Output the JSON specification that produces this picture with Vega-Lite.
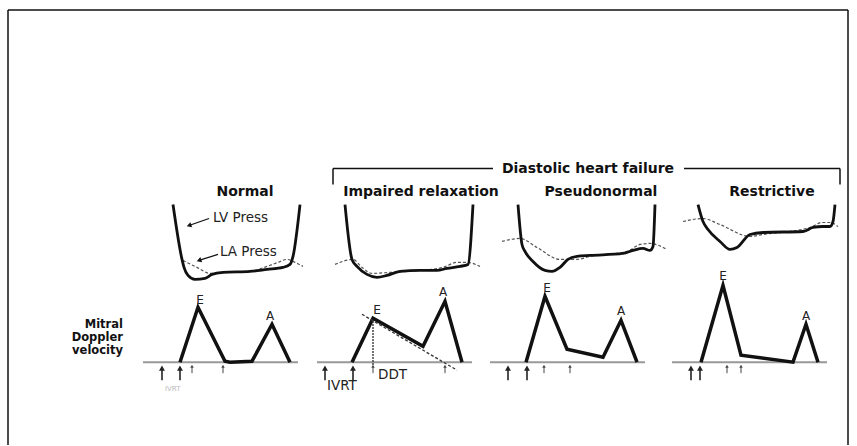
{
  "$schema": "https://vega.github.io/schema/vega-lite/v6.json",
  "width": 857,
  "height": 446,
  "autosize": {"type": "fit", "contains": "padding"},
  "padding": 0,
  "background": "white",
  "config": {"view": {"stroke": null}},
  "datasets": {
    "lv": [
      {"id": "N", "x": 173, "y": 205}, {"id": "N", "x": 182, "y": 260}, {"id": "N", "x": 184, "y": 268}, {"id": "N", "x": 188, "y": 276}, {"id": "N", "x": 195, "y": 280}, {"id": "N", "x": 205, "y": 279}, {"id": "N", "x": 212, "y": 275}, {"id": "N", "x": 223, "y": 273}, {"id": "N", "x": 250, "y": 272}, {"id": "N", "x": 267, "y": 270}, {"id": "N", "x": 283, "y": 268}, {"id": "N", "x": 290, "y": 265}, {"id": "N", "x": 293, "y": 257}, {"id": "N", "x": 300, "y": 205},
      {"id": "I", "x": 345, "y": 205}, {"id": "I", "x": 352, "y": 260}, {"id": "I", "x": 357, "y": 267}, {"id": "I", "x": 367, "y": 275}, {"id": "I", "x": 377, "y": 278}, {"id": "I", "x": 387, "y": 276}, {"id": "I", "x": 400, "y": 272}, {"id": "I", "x": 420, "y": 271}, {"id": "I", "x": 437, "y": 271}, {"id": "I", "x": 447, "y": 269}, {"id": "I", "x": 460, "y": 267}, {"id": "I", "x": 468, "y": 265}, {"id": "I", "x": 473, "y": 205},
      {"id": "P", "x": 518, "y": 205}, {"id": "P", "x": 522, "y": 245}, {"id": "P", "x": 525, "y": 252}, {"id": "P", "x": 533, "y": 262}, {"id": "P", "x": 545, "y": 271}, {"id": "P", "x": 552, "y": 272}, {"id": "P", "x": 560, "y": 268}, {"id": "P", "x": 568, "y": 260}, {"id": "P", "x": 577, "y": 257}, {"id": "P", "x": 590, "y": 256}, {"id": "P", "x": 623, "y": 254}, {"id": "P", "x": 633, "y": 251}, {"id": "P", "x": 643, "y": 249}, {"id": "P", "x": 650, "y": 251}, {"id": "P", "x": 653, "y": 247}, {"id": "P", "x": 655, "y": 205},
      {"id": "R", "x": 698, "y": 205}, {"id": "R", "x": 703, "y": 222}, {"id": "R", "x": 708, "y": 230}, {"id": "R", "x": 720, "y": 242}, {"id": "R", "x": 730, "y": 250}, {"id": "R", "x": 737, "y": 248}, {"id": "R", "x": 750, "y": 235}, {"id": "R", "x": 763, "y": 233}, {"id": "R", "x": 803, "y": 232}, {"id": "R", "x": 813, "y": 228}, {"id": "R", "x": 823, "y": 227}, {"id": "R", "x": 830, "y": 227}, {"id": "R", "x": 833, "y": 222}, {"id": "R", "x": 835, "y": 205}
    ],
    "la": [
      {"id": "N", "x": 183, "y": 261}, {"id": "N", "x": 197, "y": 268}, {"id": "N", "x": 210, "y": 274}, {"id": "N", "x": 225, "y": 273}, {"id": "N", "x": 250, "y": 272}, {"id": "N", "x": 267, "y": 267}, {"id": "N", "x": 278, "y": 263}, {"id": "N", "x": 287, "y": 260}, {"id": "N", "x": 295, "y": 263}, {"id": "N", "x": 303, "y": 267},
      {"id": "I", "x": 335, "y": 265}, {"id": "I", "x": 353, "y": 260}, {"id": "I", "x": 362, "y": 268}, {"id": "I", "x": 372, "y": 274}, {"id": "I", "x": 390, "y": 273}, {"id": "I", "x": 420, "y": 271}, {"id": "I", "x": 443, "y": 268}, {"id": "I", "x": 457, "y": 263}, {"id": "I", "x": 467, "y": 263}, {"id": "I", "x": 480, "y": 267},
      {"id": "P", "x": 502, "y": 242}, {"id": "P", "x": 520, "y": 239}, {"id": "P", "x": 537, "y": 248}, {"id": "P", "x": 560, "y": 260}, {"id": "P", "x": 577, "y": 260}, {"id": "P", "x": 590, "y": 257}, {"id": "P", "x": 627, "y": 252}, {"id": "P", "x": 640, "y": 245}, {"id": "P", "x": 650, "y": 244}, {"id": "P", "x": 667, "y": 250},
      {"id": "R", "x": 683, "y": 222}, {"id": "R", "x": 703, "y": 219}, {"id": "R", "x": 720, "y": 225}, {"id": "R", "x": 750, "y": 237}, {"id": "R", "x": 763, "y": 235}, {"id": "R", "x": 810, "y": 228}, {"id": "R", "x": 822, "y": 223}, {"id": "R", "x": 830, "y": 223}, {"id": "R", "x": 838, "y": 227}
    ],
    "dop": [
      {"id": "N", "x": 180, "y": 363}, {"id": "N", "x": 198, "y": 308}, {"id": "N", "x": 225, "y": 362}, {"id": "N", "x": 230, "y": 363}, {"id": "N", "x": 252, "y": 362}, {"id": "N", "x": 272, "y": 325}, {"id": "N", "x": 290, "y": 363},
      {"id": "I", "x": 352, "y": 363}, {"id": "I", "x": 373, "y": 319}, {"id": "I", "x": 423, "y": 347}, {"id": "I", "x": 445, "y": 302}, {"id": "I", "x": 462, "y": 363},
      {"id": "P", "x": 526, "y": 363}, {"id": "P", "x": 545, "y": 297}, {"id": "P", "x": 567, "y": 350}, {"id": "P", "x": 603, "y": 358}, {"id": "P", "x": 621, "y": 321}, {"id": "P", "x": 637, "y": 363},
      {"id": "R", "x": 701, "y": 363}, {"id": "R", "x": 723, "y": 286}, {"id": "R", "x": 741, "y": 356}, {"id": "R", "x": 793, "y": 363}, {"id": "R", "x": 806, "y": 325}, {"id": "R", "x": 818, "y": 363}
    ],
    "baseline": [
      {"x": 143, "y": 363, "x2": 298, "y2": 363},
      {"x": 317, "y": 363, "x2": 472, "y2": 363},
      {"x": 490, "y": 363, "x2": 645, "y2": 363},
      {"x": 672, "y": 363, "x2": 827, "y2": 363}
    ],
    "frame": [
      {"x": 8, "y": 10, "x2": 848, "y2": 10},
      {"x": 8, "y": 10, "x2": 8, "y2": 446},
      {"x": 848, "y": 10, "x2": 848, "y2": 446},
      {"x": 333, "y": 169, "x2": 493, "y2": 169},
      {"x": 684, "y": 169, "x2": 840, "y2": 169},
      {"x": 333, "y": 169, "x2": 333, "y2": 185},
      {"x": 840, "y": 169, "x2": 840, "y2": 185}
    ],
    "pointers": [
      {"x": 209, "y": 219, "x2": 189, "y2": 226},
      {"x": 218, "y": 255, "x2": 199, "y2": 261}
    ],
    "bigArrows": [
      {"x": 162, "y": 381, "y2": 369}, {"x": 180, "y": 381, "y2": 369},
      {"x": 325, "y": 381, "y2": 369}, {"x": 353, "y": 381, "y2": 369},
      {"x": 508, "y": 381, "y2": 369}, {"x": 527, "y": 381, "y2": 369},
      {"x": 691, "y": 381, "y2": 369}, {"x": 700, "y": 381, "y2": 369}
    ],
    "smallArrows": [
      {"x": 192, "y": 374, "y2": 367}, {"x": 223, "y": 374, "y2": 367},
      {"x": 373, "y": 374, "y2": 367}, {"x": 445, "y": 374, "y2": 367},
      {"x": 544, "y": 374, "y2": 367}, {"x": 570, "y": 374, "y2": 367},
      {"x": 727, "y": 374, "y2": 367}, {"x": 741, "y": 374, "y2": 367}
    ],
    "titles": [
      {"x": 245, "y": 192, "label": "Normal"},
      {"x": 421, "y": 192, "label": "Impaired relaxation"},
      {"x": 601, "y": 192, "label": "Pseudonormal"},
      {"x": 772, "y": 192, "label": "Restrictive"},
      {"x": 588, "y": 169, "label": "Diastolic heart failure"}
    ],
    "leftLabels": [
      {"x": 213, "y": 218, "label": "LV Press"},
      {"x": 220, "y": 253, "label": "LA Press"},
      {"x": 327, "y": 387, "label": "IVRT"},
      {"x": 378, "y": 376, "label": "DDT"}
    ],
    "peaks": [
      {"x": 200, "y": 301, "label": "E"}, {"x": 270, "y": 317, "label": "A"},
      {"x": 377, "y": 311, "label": "E"}, {"x": 443, "y": 293, "label": "A"},
      {"x": 547, "y": 289, "label": "E"}, {"x": 621, "y": 312, "label": "A"},
      {"x": 723, "y": 277, "label": "E"}, {"x": 806, "y": 317, "label": "A"}
    ],
    "mitral": [
      {"x": 123, "y": 326, "label": "Mitral"},
      {"x": 123, "y": 339, "label": "Doppler"},
      {"x": 123, "y": 352, "label": "velocity"}
    ],
    "faint": [
      {"x": 165, "y": 390, "label": "IVRT"}
    ],
    "ddtSlope": [
      {"x": 362, "y": 315, "x2": 457, "y2": 371}
    ],
    "ddtDrop": [
      {"x": 373, "y": 322, "x2": 373, "y2": 367}
    ]
  },
  "encoding": {
    "x": {"field": "x", "type": "quantitative", "scale": {"domain": [0, 857], "nice": false, "zero": false}, "axis": null},
    "y": {"field": "y", "type": "quantitative", "scale": {"domain": [0, 446], "nice": false, "zero": false, "reverse": true}, "axis": null}
  },
  "layer": [
    {
      "data": {"name": "frame"},
      "mark": {"type": "rule", "color": "#111", "strokeWidth": 1.5},
      "encoding": {"x2": {"field": "x2"}, "y2": {"field": "y2"}}
    },
    {
      "data": {"name": "baseline"},
      "mark": {"type": "rule", "color": "#999", "strokeWidth": 2},
      "encoding": {"x2": {"field": "x2"}, "y2": {"field": "y2"}}
    },
    {
      "data": {"name": "la"},
      "mark": {"type": "line", "color": "#555", "strokeWidth": 1.2, "strokeDash": [3, 2], "interpolate": "monotone"},
      "encoding": {"detail": {"field": "id"}, "order": {"value": null}}
    },
    {
      "data": {"name": "lv"},
      "mark": {"type": "line", "color": "#111", "strokeWidth": 2.8, "interpolate": "monotone"},
      "encoding": {"detail": {"field": "id"}, "order": {"value": null}}
    },
    {
      "data": {"name": "dop"},
      "mark": {"type": "line", "color": "#111", "strokeWidth": 3.5, "strokeJoin": "miter"},
      "encoding": {"detail": {"field": "id"}, "order": {"value": null}}
    },
    {
      "data": {"name": "ddtSlope"},
      "mark": {"type": "rule", "color": "#333", "strokeWidth": 1.3, "strokeDash": [3, 2]},
      "encoding": {"x2": {"field": "x2"}, "y2": {"field": "y2"}}
    },
    {
      "data": {"name": "ddtDrop"},
      "mark": {"type": "rule", "color": "#333", "strokeWidth": 1.8, "strokeDash": [1.5, 1.5]},
      "encoding": {"x2": {"field": "x2"}, "y2": {"field": "y2"}}
    },
    {
      "data": {"name": "pointers"},
      "mark": {"type": "rule", "color": "#111", "strokeWidth": 1.3},
      "encoding": {"x2": {"field": "x2"}, "y2": {"field": "y2"}}
    },
    {
      "data": {"name": "pointers"},
      "mark": {"type": "point", "shape": "triangle-up", "filled": true, "color": "#111", "size": 30, "angle": 251, "opacity": 1},
      "encoding": {"x": {"field": "x2", "type": "quantitative"}, "y": {"field": "y2", "type": "quantitative"}}
    },
    {
      "data": {"name": "bigArrows"},
      "mark": {"type": "rule", "color": "#222", "strokeWidth": 1.6},
      "encoding": {"y2": {"field": "y2"}}
    },
    {
      "data": {"name": "bigArrows"},
      "mark": {"type": "point", "shape": "triangle-up", "filled": true, "color": "#222", "size": 35, "opacity": 1},
      "encoding": {"y": {"field": "y2", "type": "quantitative"}}
    },
    {
      "data": {"name": "smallArrows"},
      "mark": {"type": "rule", "color": "#444", "strokeWidth": 1},
      "encoding": {"y2": {"field": "y2"}}
    },
    {
      "data": {"name": "smallArrows"},
      "mark": {"type": "point", "shape": "triangle-up", "filled": true, "color": "#444", "size": 12, "opacity": 1},
      "encoding": {"y": {"field": "y2", "type": "quantitative"}}
    },
    {
      "data": {"name": "titles"},
      "mark": {"type": "text", "font": "DejaVu Sans", "fontWeight": "bold", "fontSize": 14, "color": "#111", "align": "center", "baseline": "middle"},
      "encoding": {"text": {"field": "label"}}
    },
    {
      "data": {"name": "leftLabels"},
      "mark": {"type": "text", "font": "DejaVu Sans", "fontSize": 13.5, "color": "#222", "align": "left", "baseline": "middle"},
      "encoding": {"text": {"field": "label"}}
    },
    {
      "data": {"name": "peaks"},
      "mark": {"type": "text", "font": "DejaVu Sans", "fontSize": 12, "color": "#222", "align": "center", "baseline": "middle"},
      "encoding": {"text": {"field": "label"}}
    },
    {
      "data": {"name": "mitral"},
      "mark": {"type": "text", "font": "DejaVu Sans", "fontWeight": "bold", "fontSize": 11.5, "color": "#111", "align": "right", "baseline": "middle"},
      "encoding": {"text": {"field": "label"}}
    },
    {
      "data": {"name": "faint"},
      "mark": {"type": "text", "font": "DejaVu Sans", "fontSize": 7, "color": "#bbb", "align": "left", "baseline": "middle"},
      "encoding": {"text": {"field": "label"}}
    }
  ]
}
